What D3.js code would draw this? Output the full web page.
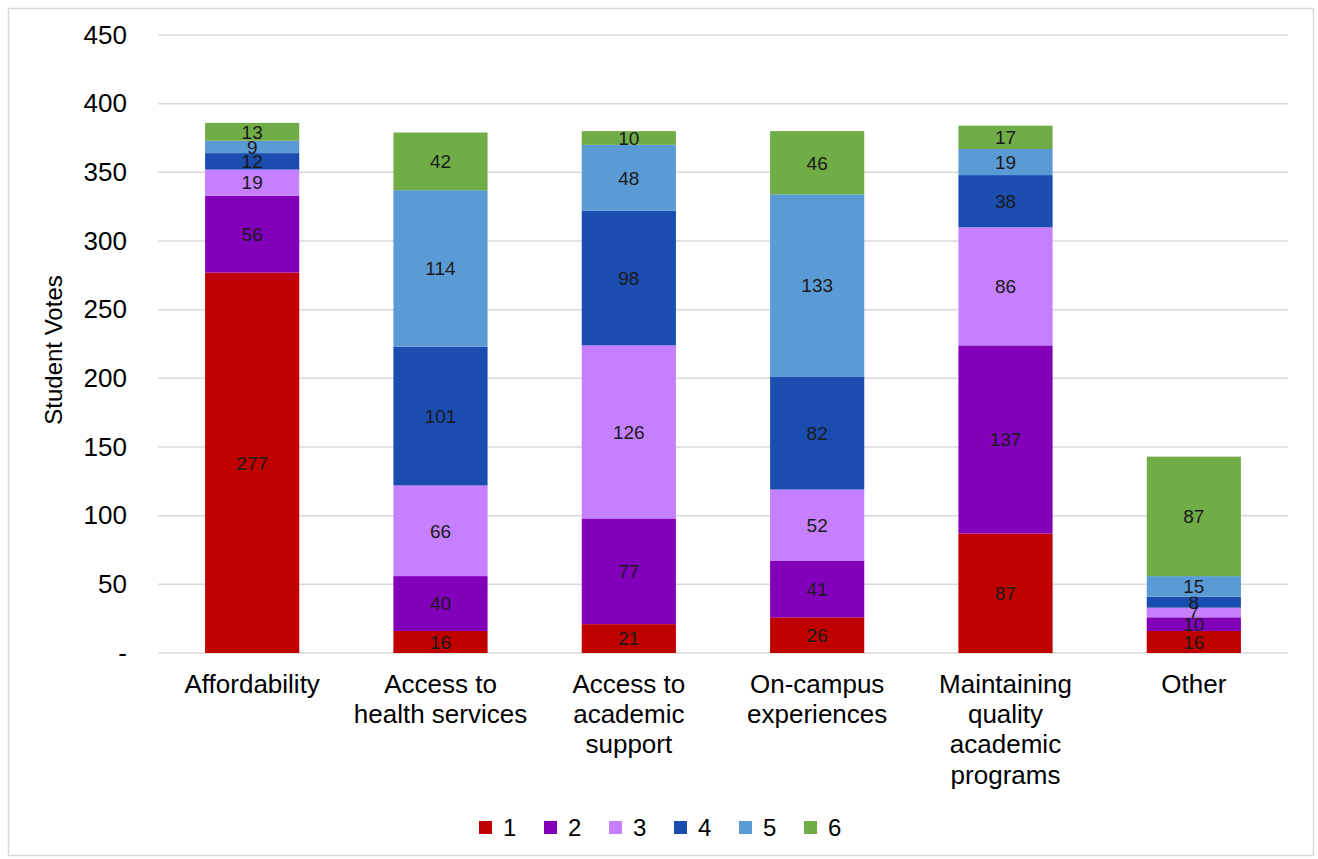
<!DOCTYPE html>
<html>
<head>
<meta charset="utf-8">
<script src="https://cdn.jsdelivr.net/npm/d3@7"></script>
<style>
  body { margin:0; background:#fff; font-family: "Liberation Sans", Arial, sans-serif; }
</style>
</head>
<body>
<div id="chart-area"></div>
<script>
const categories = [
    ["Affordability"],
    ["Access to", "health services"],
    ["Access to", "academic", "support"],
    ["On-campus", "experiences"],
    ["Maintaining", "quality", "academic", "programs"],
    ["Other"]
];
const seriesNames = ["1", "2", "3", "4", "5", "6"];
const rank1 = [277, 16, 21, 26, 87, 16];
const rank2 = [56, 40, 77, 41, 137, 10];
const rank3 = [19, 66, 126, 52, 86, 7];
const rank4 = [12, 101, 98, 82, 38, 8];
const rank5 = [9, 114, 48, 133, 19, 15];
const rank6 = [13, 42, 10, 46, 17, 87];
const yTicks = [0, 50, 100, 150, 200, 250, 300, 350, 400, 450];
const colors = ["#C00000", "#8300BA", "#C680FF", "#1B4DB1", "#5B9BD5", "#70AD47"];

const W = 1318, H = 859;
const margin = { left:158, right:30, top:35, bottom:206 };
const width = W - margin.left - margin.right,
    height = H - margin.top - margin.bottom;

var svg = d3.select("#chart-area")
    .append("svg")
    .attr("width", W)
    .attr("height", H);

// outer frame
svg.append("rect")
    .attr("x", 8.5).attr("y", 8.5)
    .attr("width", W - 13).attr("height", H - 12)
    .attr("fill", "none")
    .attr("stroke", "#d9d9d9")
    .attr("stroke-width", 1.5);

const g = svg.append("g")
    .attr("transform", "translate(" + margin.left + ", " + margin.top + ")");

const keys = categories.map(function(d, i){ return i; });
const series = [rank1, rank2, rank3, rank4, rank5, rank6];
const rows = keys.map(function(i){
    var r = { idx: i };
    series.forEach(function(s, j){ r[j] = s[i]; });
    return r;
});
const stacked = d3.stack().keys(d3.range(series.length))(rows);

const y = d3.scaleLinear()
    .domain([0, 450])
    .range([height, 0]);

const x = d3.scaleBand()
    .domain(keys)
    .range([0, width])
    .paddingInner(0.5)
    .paddingOuter(0.25);

// gridlines
g.append("g")
    .selectAll("line")
    .data(yTicks)
    .enter()
    .append("line")
        .attr("x1", 0).attr("x2", width)
        .attr("y1", function(d){ return y(d); })
        .attr("y2", function(d){ return y(d); })
        .attr("stroke", "#d9d9d9")
        .attr("stroke-width", 1.5);

// y axis labels
var yAxisCall = d3.axisLeft(y)
    .tickValues(yTicks)
    .tickSize(0)
    .tickPadding(31)
    .tickFormat(function(d){ return d === 0 ? "-" : d; });
const yAxis = g.append("g")
    .attr("class", "y-axis")
    .call(yAxisCall);
yAxis.select(".domain").remove();
yAxis.selectAll("text")
    .attr("font-size", "26px")
    .attr("font-family", "Liberation Sans, Arial, sans-serif")
    .attr("fill", "#000");

// bars
const layers = g.selectAll(".layer")
    .data(stacked)
    .enter()
    .append("g")
        .attr("class", "layer")
        .attr("fill", function(d){ return colors[d.key]; });

layers.selectAll("rect")
    .data(function(d){ return d; })
    .enter()
    .append("rect")
        .attr("x", function(d){ return x(d.data.idx); })
        .attr("y", function(d){ return y(d[1]); })
        .attr("height", function(d){ return y(d[0]) - y(d[1]); })
        .attr("width", x.bandwidth());

// data labels
layers.selectAll("text")
    .data(function(d){ return d; })
    .enter()
    .append("text")
        .attr("x", function(d){ return x(d.data.idx) + x.bandwidth() / 2; })
        .attr("y", function(d){ return (y(d[0]) + y(d[1])) / 2; })
        .attr("dy", "0.36em")
        .attr("text-anchor", "middle")
        .attr("font-size", "19px")
        .attr("fill", "#1a1a1a")
        .text(function(d){ return d[1] - d[0]; });

// category labels
const catLabels = g.append("g")
    .selectAll("text")
    .data(categories)
    .enter()
    .append("text")
        .attr("text-anchor", "middle")
        .attr("font-size", "26px")
        .attr("fill", "#000")
        .attr("transform", function(d, i){
            return "translate(" + (x(i) + x.bandwidth() / 2) + ", " + (height + 40) + ")";
        });
catLabels.selectAll("tspan")
    .data(function(d){ return d; })
    .enter()
    .append("tspan")
        .attr("x", 0)
        .attr("dy", function(d, i){ return i === 0 ? 0 : 30.2; })
        .text(function(d){ return d; });

// Y Label
svg.append("text")
    .attr("transform", "translate(62, " + (margin.top + height / 2 + 6) + ") rotate(-90)")
    .attr("text-anchor", "middle")
    .attr("font-size", "24px")
    .attr("fill", "#000")
    .text("Student Votes");

// legend
const legend = svg.append("g")
    .attr("transform", "translate(479, 827.5)");
const items = legend.selectAll("g")
    .data(seriesNames)
    .enter()
    .append("g")
        .attr("transform", function(d, i){ return "translate(" + (i * 65) + ", 0)"; });
items.append("rect")
    .attr("x", 0).attr("y", -6.5)
    .attr("width", 13).attr("height", 13)
    .attr("fill", function(d, i){ return colors[i]; });
items.append("text")
    .attr("x", 24)
    .attr("dy", "0.36em")
    .attr("font-size", "24px")
    .attr("fill", "#000")
    .text(function(d){ return d; });
</script>
</body>
</html>
